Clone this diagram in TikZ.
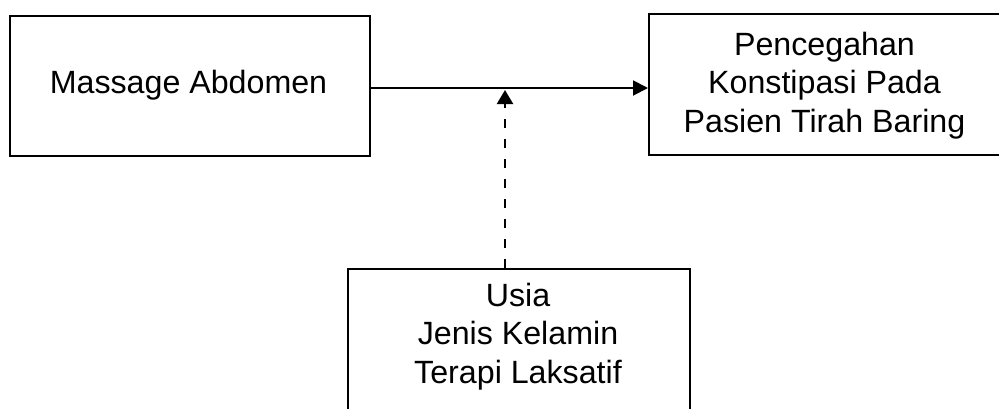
\documentclass[tikz,border=0pt]{standalone}
\usepackage{fontspec}
\setmainfont{Liberation Sans}
\usetikzlibrary{arrows.meta}
\begin{document}
\begin{tikzpicture}[x=1pt,y=-1pt,
  box/.style={draw, line width=1.9pt, rectangle, inner sep=0pt, anchor=north west},
  lbl/.style={font=\fontsize{32.2}{38.5}\selectfont, align=center, inner sep=0pt, anchor=base},
  conn/.style={line width=1.9pt, -{Triangle[length=15pt,width=15pt]}},
  dconn/.style={line width=2.2pt, dash pattern=on 9pt off 11pt, -{Triangle[length=14pt,width=16pt]}}]
\useasboundingbox (0,0) rectangle (999,408);
\clip (0,0) rectangle (999,408);
\node[box, minimum width=360pt, minimum height=140pt] (ma) at (9,15) {};
\node[box, minimum width=353pt, minimum height=141pt] (pc) at (648,13) {};
\node[box, minimum width=342pt, minimum height=160pt] (ub) at (347,268) {};
\node[lbl] (tma) at (188.5,93) {Massage Abdomen};
\node[lbl] (tpc) at (824.5,132) {Pencegahan\\Konstipasi Pada\\Pasien Tirah Baring};
\node[lbl] (tub) at (518,383) {Usia\\Jenis Kelamin\\Terapi Laksatif};
\coordinate (j) at (505,88);
\coordinate (jt) at (505,90);
\draw[conn] (ma.east |- j) -- (pc.west |- j);
\draw[dconn] (jt |- ub.north) -- (jt);
\end{tikzpicture}
\end{document}
